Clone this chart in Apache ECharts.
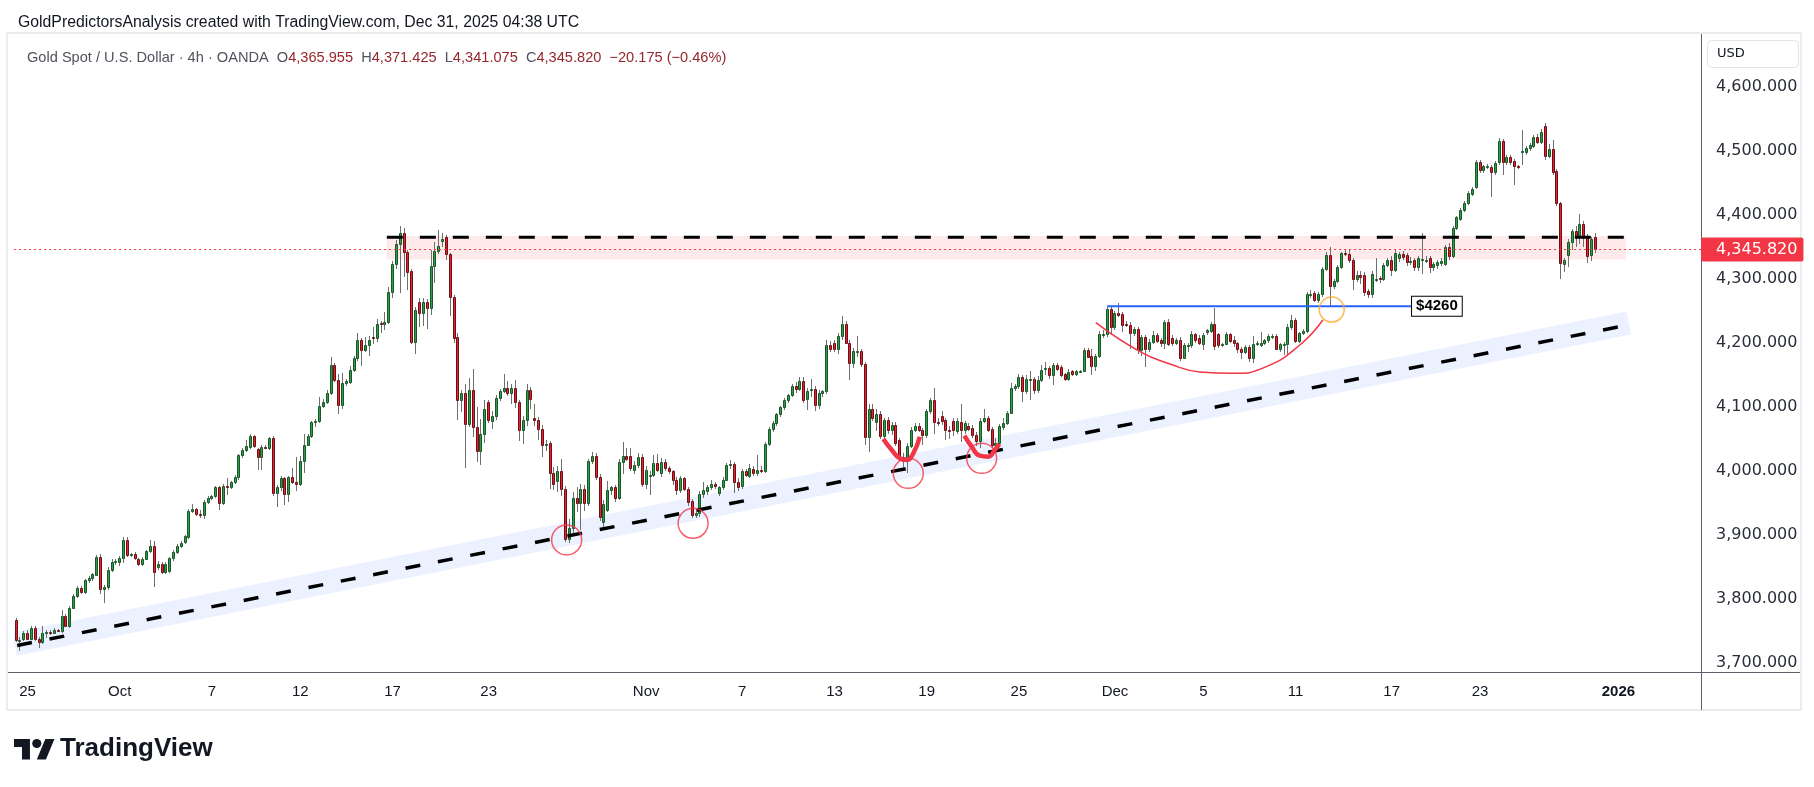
<!DOCTYPE html>
<html lang="en">
<head>
<meta charset="UTF-8">
<title>Gold Spot / U.S. Dollar 4h</title>
<script src="https://cdn.jsdelivr.net/npm/echarts@6/dist/echarts.min.js"></script>
<style>
  html, body { margin: 0; padding: 0; background: #fff; }
  #main { width: 1814px; height: 787px; }
</style>
</head>
<body>
<div id="main"></div>
<script>
// 4h candles, Sep 25 -> Dec 31 2025, each [open, high, low, close]
var ohlc = [
  [3767,3770,3733,3735],[3735,3741,3718,3736],[3737,3750,3734,3747],[3747,3752,3735,3737],[3737,3758,3735,3755],[3755,3757,3734,3737],[3737,3741,3723,3732],[3732,3758,3729,3747],
  [3747,3751,3738,3748],[3748,3751,3744,3747],[3747,3755,3745,3751],[3751,3753,3748,3750],[3750,3782,3747,3773],[3773,3776,3756,3758],[3758,3788,3755,3786],[3786,3808,3784,3804],
  [3804,3820,3801,3817],[3817,3820,3808,3811],[3811,3831,3808,3829],[3829,3836,3825,3832],[3832,3840,3828,3838],[3837,3868,3835,3865],[3865,3870,3808,3815],[3815,3822,3793,3819],
  [3818,3850,3814,3845],[3845,3862,3842,3857],[3857,3862,3853,3859],[3858,3867,3852,3863],[3863,3897,3856,3892],[3892,3896,3865,3868],[3868,3872,3866,3870],[3870,3873,3860,3863],
  [3862,3864,3852,3854],[3854,3866,3851,3862],[3862,3877,3860,3874],[3874,3892,3871,3883],[3883,3890,3819,3842],[3850,3859,3845,3855],[3855,3858,3838,3842],[3842,3858,3839,3855],
  [3843,3866,3841,3863],[3863,3876,3859,3873],[3873,3886,3870,3883],[3883,3890,3880,3887],[3888,3900,3885,3898],[3897,3940,3894,3937],[3937,3948,3934,3940],[3940,3942,3929,3932],
  [3932,3938,3926,3931],
  // Oct
  [3931,3955,3925,3952],[3952,3960,3948,3958],[3958,3962,3955,3960],[3960,3976,3957,3974],[3974,3977,3939,3949],[3949,3979,3946,3977],[3977,3988,3962,3974],[3974,3984,3971,3982],
  [3982,3993,3980,3990],[3990,4026,3985,4024],[4024,4036,4020,4033],[4033,4048,4030,4038],[4037,4058,4034,4054],[4054,4056,4035,4039],[4034,4036,4001,4021],[4021,4040,4002,4037],
  [4037,4040,4034,4036],[4036,4053,4033,4051],[4051,4055,3960,3966],[3966,3978,3943,3974],[3974,3992,3968,3988],[3988,3991,3946,3963],[3963,3992,3951,3990],[3990,4005,3980,3983],
  [3983,4022,3969,3980],[3980,4023,3976,4015],[4015,4057,3997,4041],[4041,4058,4038,4054],[4054,4078,4051,4076],[4076,4081,4068,4078],[4078,4115,4075,4102],[4102,4112,4098,4108],
  [4108,4126,4105,4121],[4121,4178,4118,4165],[4165,4168,4138,4142],[4142,4152,4088,4103],[4103,4153,4096,4137],[4137,4143,4133,4140],[4138,4164,4135,4158],[4158,4180,4155,4177],
  [4176,4215,4172,4205],[4205,4208,4163,4188],[4188,4209,4185,4197],[4196,4210,4180,4204],[4209,4224,4198,4207],[4207,4237,4202,4230],[4231,4234,4215,4229],[4229,4248,4220,4232],
  [4232,4287,4230,4279],[4279,4328,4270,4323],[4323,4360,4315,4354],[4354,4382,4278,4372],
  [4372,4380,4303,4342],[4342,4345,4282,4311],[4312,4316,4198,4202],[4202,4256,4183,4251],[4263,4270,4225,4246],[4246,4270,4227,4264],[4264,4268,4222,4255],[4255,4345,4243,4320],
  [4320,4358,4293,4344],[4344,4377,4338,4352],[4359,4371,4350,4362],[4365,4369,4329,4339],[4339,4341,4242,4271],[4271,4274,4200,4207],[4209,4216,4079,4110],[4110,4126,4092,4122],
  [4121,4135,4004,4073],[4073,4145,4068,4126],[4126,4159,4053,4068],[4068,4099,4014,4031],[4031,4081,4009,4057],[4057,4110,4043,4096],[4107,4111,4075,4079],[4078,4093,4065,4086],
  [4086,4119,4079,4113],[4113,4128,4109,4124],[4124,4152,4122,4130],[4130,4140,4117,4122],[4122,4136,4105,4130],[4130,4142,4098,4108],[4108,4110,4046,4063],[4063,4086,4042,4079],
  [4079,4135,4070,4126],[4126,4131,4097,4112],[4083,4105,4070,4079],[4079,4084,4048,4066],[4066,4071,4021,4041],[4042,4048,4031,4042],[4043,4046,3971,3997],[3997,4006,3970,3979],
  [3984,4007,3967,4000],[4000,4018,3960,3971],[3971,3977,3888,3894],[3894,3925,3887,3910],[3910,3967,3903,3957],[3957,3975,3935,3950],[3950,3980,3908,3972],[3972,3978,3937,3949],
  [3949,4019,3945,4015],[4015,4030,4010,4023],[4023,4028,3985,3990],[3990,3995,3921,3928],
  // Nov
  [3920,3955,3910,3948],[3939,3984,3935,3970],[3970,3977,3962,3974],[3974,3978,3952,3958],[3958,4018,3955,4014],[4014,4045,3995,4023],[4023,4036,4015,4019],[4023,4036,4000,4004],
  [4002,4016,3995,4009],[4009,4028,4005,4021],[4021,4026,3975,3979],[3979,4008,3972,4001],[3993,4000,3962,3993],[3993,4025,3990,4012],[4012,4026,3998,4001],[3997,4020,3990,4014],
  [4014,4018,4000,4004],[4004,4008,3995,3999],[3999,4002,3978,3985],[3985,3990,3962,3970],[3970,3992,3965,3988],[3988,3991,3968,3972],[3972,3975,3945,3952],[3953,3956,3926,3931],
  [3931,3940,3926,3934],[3934,3968,3928,3963],[3963,3982,3958,3970],[3969,3978,3962,3974],[3974,3985,3970,3980],[3980,3983,3972,3977],[3966,3976,3960,3974],[3974,3990,3970,3986],
  [3986,4012,3984,4009],[4010,4017,4003,4010],[4010,4013,3965,3983],[3983,3988,3968,3974],[3976,4003,3972,3999],[3999,4003,3990,3993],[3992,4010,3988,4004],[4003,4008,3992,3996],
  [3996,4025,3992,4002],[4002,4008,3996,3999],[4000,4045,3996,4042],[4042,4068,4038,4066],[4066,4078,4060,4074],[4074,4091,4070,4088],[4088,4101,4084,4099],[4099,4114,4095,4111],
  [4111,4120,4106,4118],[4118,4135,4115,4132],[4132,4138,4122,4128],[4128,4146,4124,4141],
  [4141,4146,4106,4111],[4112,4130,4095,4124],[4128,4143,4116,4128],[4128,4133,4094,4103],[4103,4126,4096,4121],[4121,4127,4115,4124],[4124,4204,4120,4196],[4196,4203,4186,4190],
  [4199,4204,4185,4190],[4190,4215,4182,4210],[4210,4242,4205,4230],[4229,4234,4198,4200],[4200,4205,4142,4168],[4168,4192,4160,4187],[4187,4210,4178,4187],[4187,4190,4162,4167],
  [4167,4170,4040,4053],[4053,4105,4030,4097],[4097,4105,4078,4083],[4076,4097,4062,4089],[4088,4093,4050,4055],[4055,4083,4045,4079],[4079,4084,4058,4064],[4064,4076,4056,4071],
  [4071,4076,4038,4043],[4048,4052,4015,4022],[4022,4028,4006,4016],[4016,4043,3997,4039],[4039,4068,4035,4064],[4064,4075,4060,4070],[4070,4074,4060,4064],[4064,4067,4040,4056],
  [4056,4096,4052,4093],[4093,4114,4088,4110],[4110,4130,4058,4077],[4077,4082,4070,4076],[4086,4093,4072,4078],[4079,4083,4048,4064],[4064,4070,4050,4062],[4078,4082,4055,4064],
  [4062,4082,4058,4078],[4076,4104,4045,4064],[4064,4078,4058,4075],[4070,4075,4062,4066],[4067,4072,4052,4056],[4056,4060,4038,4047],[4047,4083,4035,4078],[4078,4097,4074,4082],
  [4082,4086,4060,4064],[4065,4068,4035,4040],[4040,4052,4036,4044],
  [4044,4073,4040,4070],[4069,4082,4064,4075],[4075,4093,4072,4090],[4090,4137,4088,4130],[4130,4136,4125,4132],[4132,4152,4128,4147],[4147,4150,4108,4125],[4125,4150,4120,4144],
  [4144,4156,4111,4144],[4143,4146,4120,4126],[4127,4148,4122,4142],[4142,4165,4138,4158],[4160,4170,4150,4160],[4160,4164,4143,4150],[4150,4168,4134,4165],[4165,4169,4156,4159],
  [4162,4165,4146,4150],[4151,4153,4140,4144],[4144,4159,4140,4155],[4156,4158,4148,4151],[4151,4158,4148,4156],[4156,4158,4153,4156],[4156,4192,4154,4189],[4189,4192,4176,4178],
  [4179,4190,4150,4164],[4164,4182,4156,4179],[4179,4218,4176,4214],[4214,4220,4207,4214],
  // Dec
  [4214,4256,4209,4253],[4253,4256,4212,4225],[4225,4250,4220,4246],[4246,4262,4240,4244],
  [4245,4248,4217,4228],[4230,4234,4224,4228],[4228,4232,4191,4216],[4216,4224,4210,4221],[4221,4224,4182,4188],[4188,4212,4180,4209],[4209,4212,4162,4190],[4190,4206,4186,4202],
  [4202,4218,4198,4212],[4212,4215,4200,4203],[4204,4208,4194,4199],[4199,4236,4190,4233],[4233,4237,4195,4198],[4208,4212,4195,4199],[4199,4208,4196,4205],[4205,4209,4172,4177],
  [4177,4200,4174,4196],[4196,4200,4186,4196],[4196,4218,4192,4214],[4214,4216,4200,4204],
  [4207,4212,4196,4199],[4198,4215,4189,4212],[4217,4222,4212,4220],[4219,4232,4216,4230],[4230,4255,4189,4195],[4214,4216,4192,4196],[4196,4200,4193,4198],[4198,4217,4196,4214],
  [4214,4216,4200,4203],[4204,4211,4194,4199],[4199,4201,4184,4191],[4191,4194,4174,4186],[4186,4196,4182,4194],[4194,4197,4170,4176],[4176,4210,4168,4198],[4199,4203,4195,4199],
  [4197,4217,4194,4199],[4199,4206,4196,4204],[4204,4214,4200,4210],[4210,4214,4206,4210],[4210,4213,4188,4191],[4191,4200,4186,4198],[4198,4201,4181,4198],[4198,4230,4180,4225],
  [4225,4243,4220,4236],[4236,4239,4199,4203],[4203,4217,4200,4215],[4215,4222,4212,4218],[4218,4280,4215,4276],[4276,4282,4270,4277],[4278,4281,4264,4267],[4267,4279,4262,4276],
  [4276,4318,4272,4315],[4315,4342,4312,4337],[4337,4349,4257,4289],[4289,4300,4284,4297],[4297,4322,4294,4318],[4318,4342,4315,4340],[4341,4346,4336,4340],[4339,4346,4325,4329],
  [4329,4332,4282,4299],[4299,4312,4295,4306],[4306,4312,4292,4303],[4306,4310,4273,4280],[4281,4284,4270,4277],[4277,4312,4270,4308],[4300,4333,4295,4300],[4301,4304,4294,4299],
  [4299,4325,4296,4321],[4321,4333,4318,4330],[4330,4336,4305,4313],[4313,4345,4310,4340],
  [4333,4342,4326,4339],[4339,4343,4330,4334],[4337,4340,4320,4326],[4328,4334,4322,4328],[4329,4333,4312,4319],[4319,4336,4312,4332],[4331,4371,4308,4331],[4330,4335,4325,4330],
  [4332,4335,4309,4319],[4319,4326,4312,4323],[4322,4329,4316,4326],[4324,4332,4320,4328],[4323,4353,4320,4350],[4350,4356,4330,4335],[4336,4382,4332,4379],[4379,4398,4376,4396],
  [4394,4410,4390,4408],[4408,4421,4404,4419],[4419,4437,4415,4434],[4433,4443,4430,4440],[4444,4486,4440,4482],[4482,4486,4466,4470],[4470,4478,4465,4476],[4476,4480,4472,4476],
  [4475,4478,4428,4467],[4467,4484,4462,4481],[4482,4520,4478,4515],[4515,4518,4462,4483],[4483,4494,4478,4490],[4490,4494,4478,4483],[4484,4487,4447,4476],[4476,4478,4472,4475],
  [4498,4532,4478,4500],[4498,4508,4494,4505],[4505,4512,4500,4509],[4508,4525,4504,4522],[4522,4526,4510,4514],[4514,4534,4510,4530],[4539,4544,4486,4492],[4492,4510,4488,4503],
  [4503,4517,4462,4467],[4469,4472,4414,4418],[4418,4420,4299,4324],[4323,4333,4310,4329],[4337,4362,4319,4357],[4357,4378,4345,4375],[4375,4382,4350,4367],[4366,4401,4355,4386],
  [4386,4390,4350,4366],[4366,4370,4324,4335],[4337,4366,4328,4362],[4365.955,4371.425,4341.075,4345.82]
];

// bar index -> date label on the time scale
var xTickLabels = [[3,'25'],[27,'Oct'],[51,'7'],[74,'12'],[98,'17'],[123,'23'],[164,'Nov'],[189,'7'],[213,'13'],
  [237,'19'],[261,'25'],[286,'Dec'],[309,'5'],[333,'11'],[358,'17'],[381,'23'],[417,'2026']];
var yTicks = [3700, 3800, 3900, 4000, 4100, 4200, 4300, 4400, 4500, 4600];
var futureBars = 27;
var lastPrice = 4345.82;
var priceChange = '\u221220.175 (\u22120.46%)';

// drawings, in [bar index, price]
var resistanceLine = [[96.5, 4365], [419, 4365]];
var resistanceZone = [[96.5, 4330], [419, 4330], [419, 4367], [96.5, 4367]];
var trendLine = [[0.3, 3727], [418.8, 4227]];
var trendBand = [[-1.0, 3747], [419.1, 4249], [420.3, 4213], [0.2, 3711]];
var supportTouches = [[143.3, 3892], [176.2, 3918], [232.2, 3996], [251.3, 4019.5]];
var retestPoint = [[342.4, 4252]];
var bounceMark1 = [[225.7, 4049.7], [227.9, 4032.5], [230.0, 4019.5], [231.8, 4016.9], [233.5, 4027.3], [235.2, 4053.3]];
var bounceMark2 = [[246.8, 4054.8], [248.7, 4037.7], [250.8, 4023.6], [253.0, 4022], [254.7, 4032.5], [255.9, 4041.9]];
var cupArc = [[281.0, 4231.4], [292.5, 4186.1], [300.3, 4166.9], [308.1, 4154.4], [316.7, 4152.3], [325.4, 4162.7], [334.1, 4196.6], [340.1, 4235.6]];
var breakoutLine = [[284.0, 4257], [363.3, 4257]];
var breakoutLabel = '$4260';

var upFill = '#2a9f47', upBorder = '#1b5628';
var downFill = '#e5222f', downBorder = '#6a1016';
var wickColor = '#6f6f6f';
var textColor = '#131722';

function fmt(v) {
    var parts = v.toFixed(3).split('.');
    return parts[0].replace(/\B(?=(\d{3})+(?!\d))/g, ',') + '.' + parts[1];
}

var nSlots = ohlc.length + futureBars;
var categories = [];
var labelAt = {};
for (var i = 0; i < nSlots; i++) categories.push(String(i));
xTickLabels.forEach(function (t) { labelAt[t[0]] = t[1]; });

var candleData = ohlc.map(function (d, i) { return [i, d[0], d[1], d[2], d[3]]; });
var last = ohlc[ohlc.length - 1];

function renderCandle(params, api) {
    var i = api.value(0);
    var o = api.value(1), h = api.value(2), l = api.value(3), c = api.value(4);
    var pO = api.coord([i, o]), pC = api.coord([i, c]);
    var yH = Math.round(api.coord([i, h])[1]), yL = Math.round(api.coord([i, l])[1]);
    var x = Math.floor(pO[0]);
    var top = Math.round(Math.min(pO[1], pC[1])), bot = Math.round(Math.max(pO[1], pC[1]));
    var up = c >= o;
    return {
        type: 'group',
        children: [
            {type: 'line', shape: {x1: x + 0.5, y1: yH, x2: x + 0.5, y2: yL}, style: {stroke: wickColor, lineWidth: 1}},
            {type: 'rect', shape: {x: x - 0.5, y: top + 0.5, width: 2, height: Math.max(bot - top, 1)},
                style: {fill: up ? upFill : downFill, stroke: up ? upBorder : downBorder, lineWidth: 1}}
        ]
    };
}

function polygonSeries(points, fill, z) {
    return {
        type: 'custom', xAxisIndex: 1, yAxisIndex: 0, silent: true, clip: true, z: z,
        data: [[points[0][0], points[0][1]]],
        renderItem: function (params, api) {
            return {type: 'polygon', shape: {points: points.map(function (p) { return api.coord(p); })}, style: {fill: fill}};
        }
    };
}

function lineSeries(points, color, width, dash, z, smooth) {
    return {
        type: 'line', xAxisIndex: 1, yAxisIndex: 0, silent: true, z: z,
        data: points, symbol: 'none', smooth: smooth || false,
        lineStyle: {color: color, width: width, type: dash || 'solid', cap: 'butt'}
    };
}

var chart = echarts.init(document.getElementById('main'));

var option = {
    animation: false,
    backgroundColor: '#ffffff',
    title: [
        {
            text: 'GoldPredictorsAnalysis created with TradingView.com, Dec 31, 2025 04:38 UTC',
            left: 13, top: 10,
            textStyle: {fontFamily: 'Liberation Sans', fontSize: 15.8, fontWeight: 'normal', color: textColor}
        },
        {
            text: '{s|Gold Spot / U.S. Dollar \u00b7 4h \u00b7 OANDA}  {s|O}{v|' + fmt(last[0]) + '}  {s|H}{v|' + fmt(last[1]) +
                '}  {s|L}{v|' + fmt(last[2]) + '}  {s|C}{v|' + fmt(last[3]) + '}  {v|' + priceChange + '}',
            left: 22, top: 45,
            textStyle: {
                fontFamily: 'Liberation Sans', fontSize: 14.6, fontWeight: 'normal',
                rich: {
                    s: {fontFamily: 'Liberation Sans', fontSize: 14.6, color: '#50535e'},
                    v: {fontFamily: 'Liberation Sans', fontSize: 14.6, color: '#96262c'}
                }
            }
        }
    ],
    grid: {left: 14.08, right: 113, top: 34, bottom: 115},
    xAxis: [
        {
            type: 'category', data: categories, boundaryGap: true,
            axisLine: {show: false}, axisTick: {show: false}, splitLine: {show: false},
            axisLabel: {
                interval: 0, margin: 12, fontFamily: 'Liberation Sans', fontSize: 15, color: textColor,
                formatter: function (v, idx) {
                    var t = labelAt[idx];
                    if (!t) return '';
                    return t === '2026' ? '{b|' + t + '}' : t;
                },
                rich: {b: {fontFamily: 'Liberation Sans', fontSize: 15, fontWeight: 'bold', color: textColor}}
            }
        },
        {type: 'value', min: -0.5, max: nSlots - 0.5, show: false}
    ],
    yAxis: {
        type: 'value', position: 'right', min: 3685.6, max: 4682.5, scale: true,
        axisLine: {show: false}, axisTick: {show: false}, splitLine: {show: false},
        axisLabel: {
            customValues: yTicks, margin: 15, fontFamily: 'DejaVu Sans', fontSize: 16, color: '#2a2e39',
            formatter: function (v) { return fmt(v); }
        }
    },
    series: [
        polygonSeries(trendBand, 'rgba(41,98,255,0.09)', 1),
        polygonSeries(resistanceZone, 'rgba(242,54,69,0.11)', 1),
        {
            type: 'line', xAxisIndex: 1, yAxisIndex: 0, silent: true, z: 2,
            data: [], symbol: 'none',
            markLine: {
                silent: true, symbol: ['none', 'none'],
                lineStyle: {color: '#f23645', width: 1, type: [2, 3]},
                label: {
                    show: true, position: 'end', distance: 0,
                    formatter: function () { return fmt(lastPrice); },
                    fontFamily: 'DejaVu Sans', fontSize: 16, color: '#ffffff',
                    backgroundColor: '#f23645', padding: [4, 6, 4, 15], borderRadius: 2
                },
                data: [{yAxis: lastPrice}]
            }
        },
        {
            type: 'custom', xAxisIndex: 0, yAxisIndex: 0, clip: true, z: 3,
            renderItem: renderCandle, data: candleData,
            encode: {x: 0, y: [1, 2, 3, 4]}
        },
        lineSeries(resistanceLine, '#000000', 3, [16, 17], 4),
        lineSeries(trendLine, '#000000', 3.5, [15, 18], 4),
        lineSeries(cupArc, '#f23645', 1.5, 'solid', 5, 0.5),
        lineSeries(bounceMark1, '#f23645', 4.5, 'solid', 5, 0.5),
        lineSeries(bounceMark2, '#f23645', 4.5, 'solid', 5, 0.5),
        {
            type: 'line', xAxisIndex: 1, yAxisIndex: 0, silent: true, z: 5,
            data: breakoutLine, symbol: 'none',
            lineStyle: {color: '#2962ff', width: 2},
            endLabel: {
                show: true, distance: 0, formatter: breakoutLabel,
                fontFamily: 'Liberation Sans', fontSize: 15, fontWeight: 'bold', color: '#000000',
                backgroundColor: '#ffffff', borderColor: '#000000', borderWidth: 1, padding: [2, 4]
            }
        },
        {
            type: 'scatter', xAxisIndex: 1, yAxisIndex: 0, silent: true, z: 6,
            data: supportTouches, symbol: 'circle', symbolSize: 30,
            itemStyle: {color: 'rgba(0,0,0,0)', borderColor: '#f23645', borderWidth: 1.5}
        },
        {
            type: 'scatter', xAxisIndex: 1, yAxisIndex: 0, silent: true, z: 6,
            data: retestPoint, symbol: 'circle', symbolSize: 25,
            itemStyle: {color: 'rgba(0,0,0,0)', borderColor: '#ffa726', borderWidth: 1.5}
        }
    ],
    graphic: [
        {type: 'rect', silent: true, shape: {x: 7, y: 33, width: 1794, height: 677}, style: {fill: 'none', stroke: '#ebecef', lineWidth: 2}},
        {type: 'line', silent: true, shape: {x1: 8, y1: 672.5, x2: 1800, y2: 672.5}, style: {stroke: '#5d606b', lineWidth: 1}},
        {type: 'line', silent: true, shape: {x1: 1701.5, y1: 34, x2: 1701.5, y2: 710}, style: {stroke: '#5d606b', lineWidth: 1}},
        {type: 'rect', silent: true, shape: {x: 1707.5, y: 40.5, width: 91, height: 27, r: 4}, style: {fill: '#ffffff', stroke: '#e0e3eb', lineWidth: 1}},
        {type: 'text', silent: true, x: 1717, y: 54, style: {text: 'USD', font: '13px "DejaVu Sans"', fill: textColor, verticalAlign: 'middle'}},
        {
            type: 'group', silent: true, x: 14, y: 734.4, scaleX: 1.14, scaleY: 1.14,
            children: [
                {type: 'polygon', shape: {points: [[14, 22], [7, 22], [7, 11], [0, 11], [0, 4], [14, 4]]}, style: {fill: '#131722'}},
                {type: 'polygon', shape: {points: [[28, 22], [20, 22], [27.5, 4], [35.5, 4]]}, style: {fill: '#131722'}},
                {type: 'circle', shape: {cx: 20, cy: 8, r: 4}, style: {fill: '#131722'}}
            ]
        },
        {type: 'text', silent: true, x: 60, y: 749, style: {text: 'TradingView', font: 'bold 26px "Liberation Sans"', fill: '#131722', verticalAlign: 'middle'}}
    ]
};

chart.setOption(option);
</script>
</body>
</html>
